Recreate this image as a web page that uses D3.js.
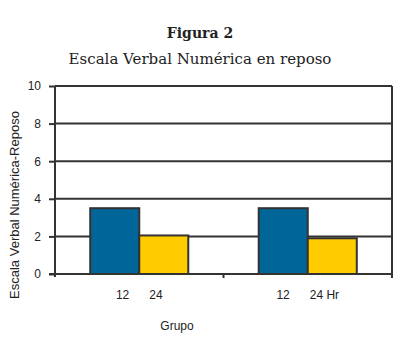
<!DOCTYPE html>
<html>
<head>
<meta charset="utf-8">
<script src="https://cdn.jsdelivr.net/npm/d3@7"></script>
<style>
  body { margin: 0; background: #fff; }
  svg { display: block; }
</style>
</head>
<body>
<main></main>
<script>
const groups = ['12      24', '12      24 Hr'];
const series = ['12', '24'];
const values = [
  [3.5, 2.05],
  [3.5, 1.9],
];
const yTicks = [0, 2, 4, 6, 8, 10];
const colors = ['#006699', '#ffcc00'];

function drawChart() {
  const width = 419;
  const height = 345;
  const margin = { top: 86, right: 27, bottom: 71, left: 55 };

  const svg = d3.select('main')
    .append('svg')
    .attr('width', width)
    .attr('height', height)
    .attr('viewBox', [0, 0, width, height]);

  const x0 = d3.scaleBand()
    .domain(groups)
    .range([margin.left, width - margin.right])
    .paddingInner(0.418)
    .paddingOuter(0.209);

  const x1 = d3.scaleBand()
    .domain(series)
    .range([0, x0.bandwidth()]);

  const y = d3.scaleLinear()
    .domain([0, 10])
    .range([height - margin.bottom, margin.top]);

  const ink = '#333';

  // titles
  svg.append('text')
    .attr('x', 200)
    .attr('y', 38)
    .attr('text-anchor', 'middle')
    .attr('font-family', 'DejaVu Serif')
    .attr('font-weight', 'bold')
    .attr('font-size', 14)
    .attr('fill', '#222')
    .text('Figura 2');

  svg.append('text')
    .attr('x', 200)
    .attr('y', 64)
    .attr('text-anchor', 'middle')
    .attr('font-family', 'DejaVu Serif')
    .attr('font-size', 15)
    .attr('fill', '#222')
    .text('Escala Verbal Numérica en reposo');

  // gridlines
  svg.append('g')
    .selectAll('line')
    .data(yTicks.filter(d => d > 0))
    .join('line')
    .attr('x1', margin.left)
    .attr('x2', width - margin.right)
    .attr('y1', d => y(d))
    .attr('y2', d => y(d))
    .attr('stroke', ink)
    .attr('stroke-width', 2);

  // bars
  svg.append('g')
    .selectAll('g')
    .data(values)
    .join('g')
    .attr('transform', (d, i) => `translate(${x0(groups[i])},0)`)
    .selectAll('rect')
    .data(d => d)
    .join('rect')
    .attr('x', (d, i) => x1(series[i]))
    .attr('width', x1.bandwidth())
    .attr('y', d => y(d))
    .attr('height', d => y(0) - y(d))
    .attr('fill', (d, i) => colors[i])
    .attr('stroke', ink)
    .attr('stroke-width', 2);

  // y axis
  const yAxis = svg.append('g')
    .attr('transform', `translate(${margin.left},0)`)
    .call(d3.axisLeft(y).tickValues(yTicks).tickSize(6).tickPadding(8));
  yAxis.select('.domain')
    .attr('stroke', ink)
    .attr('stroke-width', 2)
    .attr('d', `M0,${y(10)}V${y(0) + 3}`);
  yAxis.selectAll('.tick line').attr('stroke', ink).attr('stroke-width', 2);
  yAxis.selectAll('.tick text')
    .attr('font-family', 'Liberation Sans, Arial, sans-serif')
    .attr('font-size', 12)
    .attr('fill', '#222');

  // right border
  svg.append('line')
    .attr('x1', width - margin.right)
    .attr('x2', width - margin.right)
    .attr('y1', y(10))
    .attr('y2', y(0) + 4)
    .attr('stroke', ink)
    .attr('stroke-width', 2);

  // x axis baseline and group separators
  svg.append('line')
    .attr('x1', margin.left - 6)
    .attr('x2', width - margin.right)
    .attr('y1', y(0))
    .attr('y2', y(0))
    .attr('stroke', ink)
    .attr('stroke-width', 2);

  const step = x0.step();
  const seps = groups.slice(1).map(g => x0(g) - x0.paddingInner() * step / 2);
  svg.append('g')
    .selectAll('line')
    .data(seps)
    .join('line')
    .attr('x1', d => d)
    .attr('x2', d => d)
    .attr('y1', y(0))
    .attr('y2', y(0) + 4)
    .attr('stroke', ink)
    .attr('stroke-width', 2);

  // category labels
  svg.append('g')
    .selectAll('text')
    .data(groups)
    .join('text')
    .attr('x', d => x0(d) + x0.bandwidth() / 2)
    .attr('y', y(0) + 25)
    .attr('text-anchor', 'middle')
    .attr('font-family', 'Liberation Sans, Arial, sans-serif')
    .attr('font-size', 12)
    .attr('fill', '#222')
    .style('white-space', 'pre')
    .text(d => d);

  svg.append('text')
    .attr('x', 177)
    .attr('y', 330)
    .attr('text-anchor', 'middle')
    .attr('font-family', 'Liberation Sans, Arial, sans-serif')
    .attr('font-size', 12)
    .attr('fill', '#222')
    .text('Grupo');

  svg.append('text')
    .attr('transform', 'translate(19,205) rotate(-90)')
    .attr('text-anchor', 'middle')
    .attr('font-family', 'Liberation Sans, Arial, sans-serif')
    .attr('font-size', 13)
    .attr('fill', '#222')
    .text('Escala Verbal Numérica-Reposo');
}

drawChart();
</script>
</body>
</html>
